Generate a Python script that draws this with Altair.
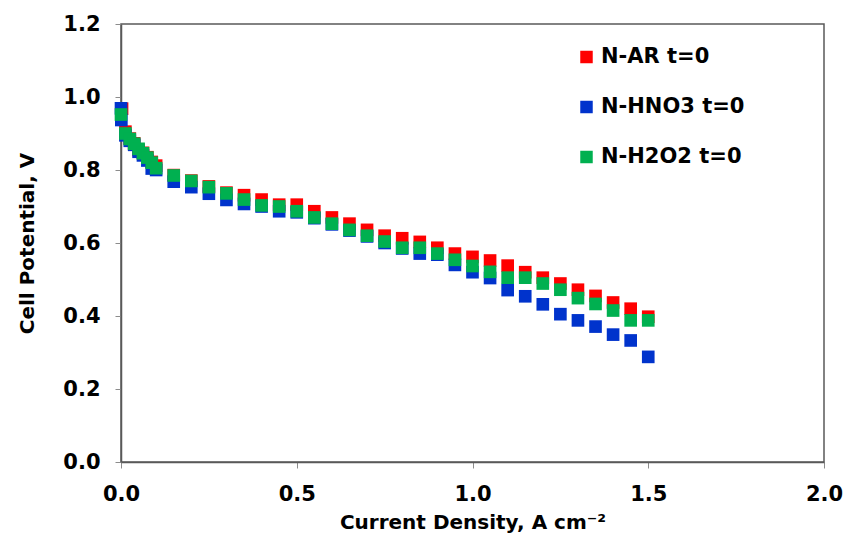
import altair as alt
import pandas as pd

series_names = ["N-AR t=0", "N-HNO3 t=0", "N-H2O2 t=0"]
series_colors = ["#FF0000", "#0033CC", "#00B050"]

ar_current = [0.003, 0.0125, 0.025, 0.0375, 0.05, 0.0625, 0.075, 0.0875, 0.1,
              0.15, 0.2, 0.25, 0.3, 0.35, 0.4, 0.45, 0.5, 0.55, 0.6, 0.65, 0.7,
              0.75, 0.8, 0.85, 0.9, 0.95, 1.0, 1.05, 1.1, 1.15, 1.2, 1.25, 1.3,
              1.35, 1.4, 1.45, 1.5]
ar_potential = [0.968, 0.905, 0.886, 0.873, 0.855, 0.847, 0.835, 0.822, 0.812,
                0.786, 0.771, 0.755, 0.738, 0.731, 0.719, 0.705, 0.705, 0.687,
                0.670, 0.653, 0.636, 0.620, 0.613, 0.603, 0.587, 0.571, 0.562,
                0.552, 0.538, 0.520, 0.505, 0.489, 0.472, 0.455, 0.437, 0.420,
                0.398]

hno3_current = [0.0, 0.001, 0.0125, 0.025, 0.0375, 0.05, 0.0625, 0.075, 0.0875,
                0.1, 0.15, 0.2, 0.25, 0.3, 0.35, 0.4, 0.45, 0.5, 0.55, 0.6,
                0.65, 0.7, 0.75, 0.8, 0.85, 0.9, 0.95, 1.0, 1.05, 1.1, 1.15,
                1.2, 1.25, 1.3, 1.35, 1.4, 1.45, 1.5]
hno3_potential = [0.969, 0.937, 0.895, 0.880, 0.869, 0.850, 0.840, 0.826, 0.804,
                  0.800, 0.768, 0.753, 0.735, 0.718, 0.707, 0.700, 0.687, 0.684,
                  0.668, 0.651, 0.634, 0.618, 0.600, 0.585, 0.571, 0.568, 0.540,
                  0.520, 0.504, 0.471, 0.454, 0.432, 0.405, 0.388, 0.371, 0.349,
                  0.333, 0.288]

h2o2_current = [0.0, 0.0125, 0.025, 0.0375, 0.05, 0.0625, 0.075, 0.0875, 0.1,
                0.15, 0.2, 0.25, 0.3, 0.35, 0.4, 0.45, 0.5, 0.55, 0.6, 0.65,
                0.7, 0.75, 0.8, 0.85, 0.9, 0.95, 1.0, 1.05, 1.1, 1.15, 1.2,
                1.25, 1.3, 1.35, 1.4, 1.45, 1.5]
h2o2_potential = [0.952, 0.900, 0.885, 0.872, 0.858, 0.846, 0.834, 0.820, 0.805,
                  0.785, 0.770, 0.753, 0.736, 0.719, 0.703, 0.700, 0.687, 0.670,
                  0.653, 0.636, 0.620, 0.604, 0.587, 0.587, 0.571, 0.554, 0.537,
                  0.521, 0.505, 0.505, 0.489, 0.472, 0.449, 0.433, 0.415, 0.388,
                  0.388]

x_ticks = [0.0, 0.5, 1.0, 1.5, 2.0]
y_ticks = [0.0, 0.2, 0.4, 0.6, 0.8, 1.0, 1.2]

rows = []
for name, xs, ys in [
    (series_names[0], ar_current, ar_potential),
    (series_names[1], hno3_current, hno3_potential),
    (series_names[2], h2o2_current, h2o2_potential),
]:
    for xv, yv in zip(xs, ys):
        rows.append({"series": name, "current": xv, "potential": yv})
df = pd.DataFrame(rows)

font = "DejaVu Sans"

chart = (
    alt.Chart(df)
    .mark_square(size=160, opacity=1, stroke=None)
    .encode(
        x=alt.X(
            "current:Q",
            scale=alt.Scale(domain=[0, 2], nice=False, zero=False),
            axis=alt.Axis(
                values=x_ticks, format=".1f",
                title="Current Density, A cm⁻²",
                titlePadding=8,
                labelPadding=15,
                labelFlush=False,
            ),
        ),
        y=alt.Y(
            "potential:Q",
            scale=alt.Scale(domain=[0, 1.2], nice=False, zero=False),
            axis=alt.Axis(
                values=y_ticks, format=".1f",
                title="Cell Potential, V",
                titlePadding=25,
                labelPadding=15,
                labelFlush=False,
            ),
        ),
        color=alt.Color(
            "series:N",
            scale=alt.Scale(domain=series_names, range=series_colors),
            legend=alt.Legend(
                title=None,
                orient="none",
                legendX=455,
                legendY=22.5,
                symbolType="square",
                symbolSize=156,
                symbolStrokeWidth=0,
                labelFontSize=21,
                labelFont=font,
                labelFontWeight="bold",
                labelColor="#000000",
                labelOffset=4,
                rowPadding=28,
                padding=0,
            ),
        ),
    )
    .properties(
        width=703,
        height=438,
        padding={"left": 121, "top": 24, "right": 19, "bottom": 74},
        autosize=alt.AutoSizeParams(type="none"),
        background="#FFFFFF",
    )
    .configure_view(stroke="#595959", strokeWidth=1.5)
    .configure_axis(
        grid=False,
        domainColor="#595959",
        domainWidth=1.5,
        tickColor="#8c8c8c",
        tickSize=6,
        tickWidth=1,
        labelFont=font,
        labelFontSize=21,
        labelFontWeight="bold",
        labelColor="#000000",
        titleFont=font,
        titleFontSize=20,
        titleFontWeight="bold",
        titleColor="#000000",
    )
)

chart.save("out.html", embed_options={"renderer": "svg", "actions": False})
